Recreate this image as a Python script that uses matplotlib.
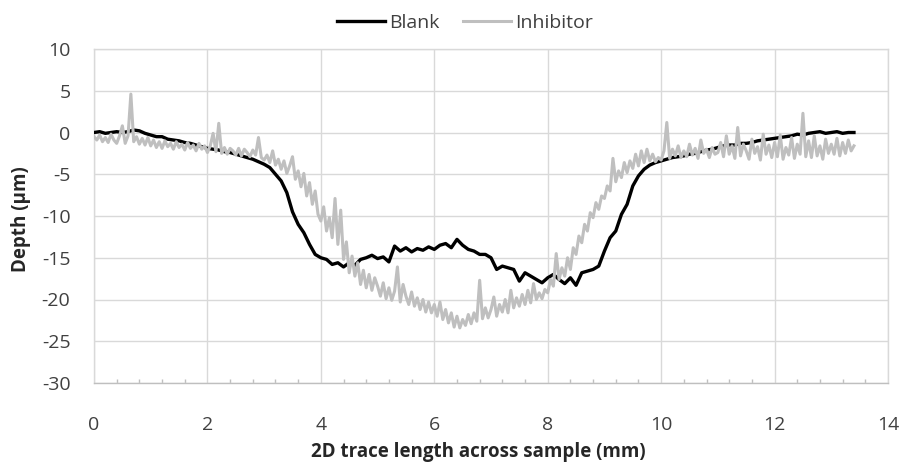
import numpy as np
import matplotlib
matplotlib.use("Agg")
import matplotlib.pyplot as plt
from matplotlib.ticker import MultipleLocator

plt.rcParams['font.family'] = ['Open Sans', 'DejaVu Sans']
plt.rcParams['axes.unicode_minus'] = False

# ---------------- data ----------------
blank_step = 0.1
blank_depth = [
    0.0, 0.1, -0.1, 0.0, 0.1, 0.0, 0.1, 0.3, 0.2, -0.1,
    -0.3, -0.5, -0.5, -0.8, -0.9, -1.0, -1.2, -1.3, -1.5, -1.7,
    -1.9, -2.0, -2.1, -2.3, -2.4, -2.6, -2.8, -3.0, -3.2, -3.5,
    -3.8, -4.2, -5.0, -5.8, -7.2, -9.5, -11.0, -12.0, -13.4, -14.6,
    -15.0, -15.2, -15.8, -15.6, -16.1, -15.6, -15.9, -15.2, -15.0, -14.7,
    -15.1, -14.9, -15.5, -13.6, -14.2, -13.8, -14.3, -13.9, -14.1, -13.7,
    -14.0, -13.5, -13.3, -13.8, -12.8, -13.5, -14.0, -14.2, -14.6, -14.6,
    -15.0, -16.4, -16.0, -16.2, -16.4, -17.8, -16.8, -17.2, -17.6, -18.0,
    -17.4, -17.0, -17.6, -18.1, -17.4, -18.3, -16.8, -16.6, -16.4, -16.0,
    -14.2, -12.6, -11.8, -9.8, -8.6, -6.4, -5.2, -4.4, -3.9, -3.6,
    -3.4, -3.2, -3.0, -2.9, -2.8, -2.6, -2.5, -2.3, -2.1, -2.0,
    -1.8, -1.6, -1.5, -1.5, -1.3, -1.3, -1.2, -1.0, -0.9, -0.8,
    -0.7, -0.6, -0.5, -0.4, -0.2, -0.3, -0.1, 0.0, 0.1, -0.1,
    0.0, 0.1, -0.1, 0.0, 0.0,
]

inhib_step = 0.05
inhib_depth = [
    -0.5, -0.9, -0.3, -1.1, -0.6, -1.2, -0.2, -0.9, -1.3, -0.4, 0.8, -1.3, -0.4, 4.6, -1.1, -0.5, -1.4, -0.7, -1.5, -0.6,
    -1.6, -0.9, -1.8, -1.1, -1.9, -1.0, -1.7, -1.3, -2.0, -1.1, -1.8, -1.4, -2.1, -1.2, -1.9, -1.5, -2.2, -1.3, -2.0, -1.6,
    -2.4, -1.6, -0.1, -2.3, 1.1, -2.5, -1.8, -2.6, -1.9, -2.2, -2.7, -1.9, -2.8, -2.0, -2.4, -2.9, -2.1, -2.7, -0.6, -3.0,
    -3.3, -2.7, -3.6, -2.2, -3.9, -3.2, -4.4, -3.4, -4.9, -4.0, -2.9, -5.6, -4.6, -6.5, -4.9, -7.6, -6.0, -8.6, -7.0, -9.8,
    -10.6, -8.9, -11.8, -10.2, -12.6, -7.9, -13.4, -9.3, -15.2, -13.1, -16.8, -14.8, -17.2, -15.6, -18.2, -16.5, -18.6, -17.0, -18.9, -17.4,
    -18.4, -19.6, -18.0, -19.9, -18.6, -20.1, -19.0, -16.1, -20.3, -18.2, -19.6, -20.6, -19.1, -20.8, -19.8, -21.2, -20.0, -21.5, -20.3, -21.6,
    -20.6, -22.0, -20.3, -22.4, -21.2, -22.8, -21.6, -23.3, -22.0, -23.4, -22.4, -23.1, -21.8, -22.9, -21.6, -22.6, -17.7, -22.3, -21.0, -22.2,
    -21.2, -19.7, -22.0, -20.6, -21.5, -20.0, -21.6, -18.9, -21.0, -19.8, -20.8, -19.4, -20.6, -18.9, -20.4, -18.1, -20.0, -19.2, -19.9, -18.8,
    -19.2, -17.6, -18.4, -14.5, -17.6, -16.2, -17.2, -15.0, -16.4, -13.8, -14.6, -12.4, -13.2, -11.0, -11.8, -9.6, -10.2, -8.4, -9.2, -7.6,
    -7.9, -6.4, -7.0, -3.1, -5.9, -4.6, -5.4, -3.6, -4.8, -3.4, -4.3, -2.6, -4.0, -2.2, -3.6, -2.0, -3.4, -2.6, -3.5, -3.0,
    -3.3, -2.2, 1.2, -3.1, -2.0, -2.8, -1.6, -3.0, -2.2, -2.9, -1.4, -2.7, -1.9, -3.1, -0.9, -2.5, -2.0, -3.0, -1.8, -2.6,
    -2.4, -1.2, -2.9, -0.4, -2.6, -1.6, -3.1, 0.6, -2.8, -1.4, -2.2, -3.2, -0.8, -2.5, -1.7, -3.3, -0.2, -2.6, -1.5, -3.0,
    -1.2, -2.9, -0.3, -3.2, -1.8, -2.7, -0.6, -3.1, -1.4, -2.6, 2.3, -2.9, -1.0, -3.0, -0.4, -2.8, -1.6, -3.2, -0.8, -2.5,
    -1.4, -2.6, -0.7, -2.8, -1.2, -2.5, -0.9, -2.2, -1.6,
]

series_names = ["Blank", "Inhibitor"]
x_label = "2D trace length across sample (mm)"
y_label = "Depth (\u00b5m)"
x_ticks = [0, 2, 4, 6, 8, 10, 12, 14]
y_ticks = [-30, -25, -20, -15, -10, -5, 0, 5, 10]

blank_x = np.arange(len(blank_depth)) * blank_step
inhib_x = np.arange(len(inhib_depth)) * inhib_step

# ---------------- figure ----------------
fig = plt.figure(figsize=(9.01, 4.66), dpi=100)
ax = fig.add_axes([94 / 901, 1 - 383 / 466, 794 / 901, 334 / 466])

grid_c = "#d9d9d9"
text_c = "#404040"

ax.plot(blank_x, blank_depth, color="#000000", lw=2.4, label=series_names[0], zorder=3)
ax.plot(inhib_x, inhib_depth, color="#bfbfbf", lw=2.2, label=series_names[1], zorder=4)

ax.set_xlim(0, 14)
ax.set_ylim(-30, 10)
ax.set_xticks(x_ticks)
ax.set_yticks(y_ticks)
ax.xaxis.set_minor_locator(MultipleLocator(0.4))
ax.grid(True, which="major", color=grid_c, lw=1.0, zorder=0)
ax.set_axisbelow(True)
for s in ax.spines.values():
    s.set_color(grid_c)
    s.set_linewidth(1.0)
ax.spines["bottom"].set_color("#bfbfbf")

ax.tick_params(axis="x", which="major", length=0, pad=24, labelsize=14, labelcolor=text_c)
ax.tick_params(axis="x", which="minor", direction="in", length=3, width=1, color="#bfbfbf")
ax.tick_params(axis="y", which="major", length=0, pad=17, labelsize=14, labelcolor=text_c)

ax.set_xlabel(x_label, fontsize=13.5, fontweight="bold", color="#262626")
ax.xaxis.set_label_coords((478 - 94) / 794, -(442 - 383) / 334)
ax.set_ylabel(y_label, fontsize=13.5, fontweight="bold", color="#262626")
ax.yaxis.set_label_coords(-(94 - 31) / 794, 0.49)

leg = ax.legend(loc="center", bbox_to_anchor=(0.467, 1.078), ncol=2, frameon=False,
                fontsize=14, handlelength=2.5, handletextpad=0.2, columnspacing=1.2,
                labelcolor=text_c)

fig.savefig("out.png", dpi=100)
